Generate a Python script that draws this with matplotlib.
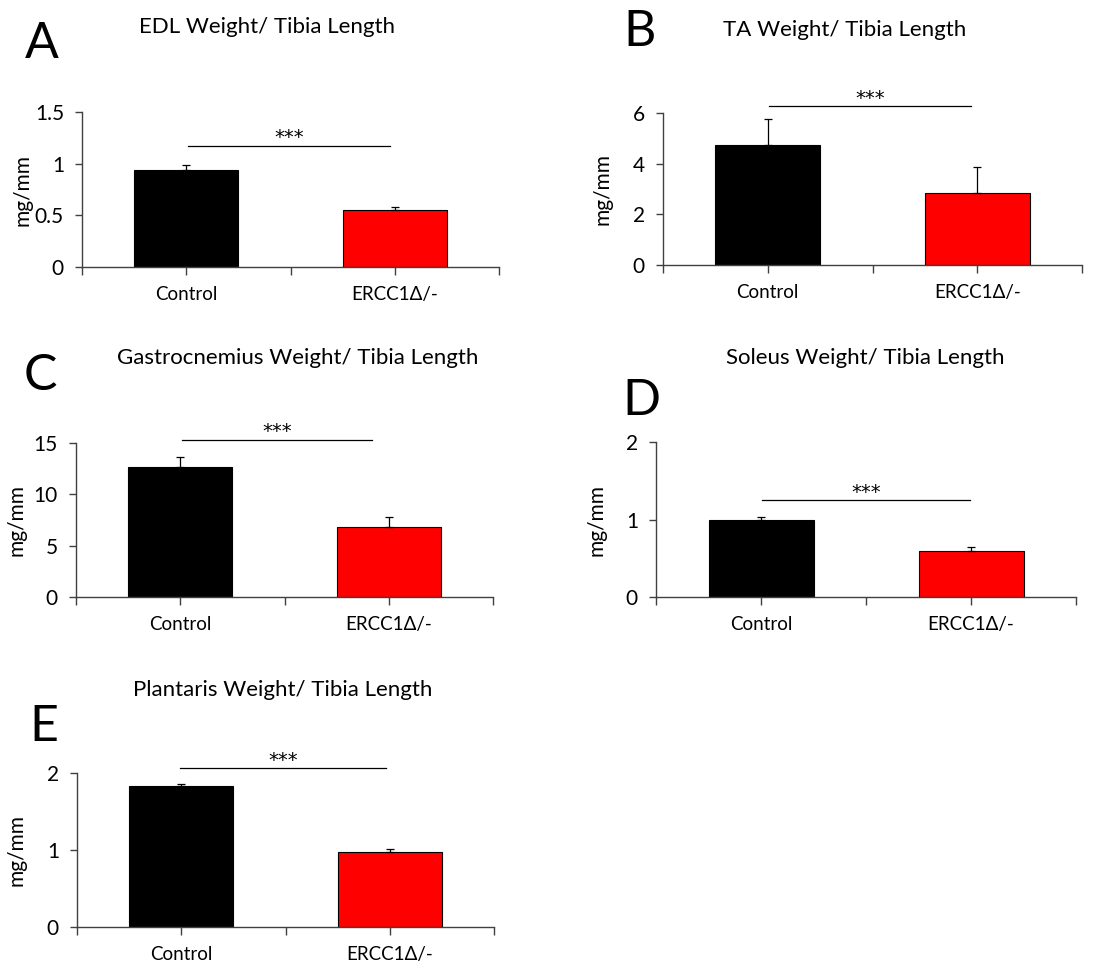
import matplotlib
matplotlib.use("Agg")
import matplotlib.pyplot as plt

plt.rcParams['font.family'] = ['Lato', 'DejaVu Sans']

W, H = 1117, 969
categories = ["Control", "ERCC1\u0394/-"]
colors = ["#000000", "#ff0000"]

titles = ["EDL Weight/ Tibia Length", "TA Weight/ Tibia Length",
          "Gastrocnemius Weight/ Tibia Length", "Soleus Weight/ Tibia Length",
          "Plantaris Weight/ Tibia Length"]
letters = ["A", "B", "C", "D", "E"]

edl_means = [0.94, 0.55]
edl_err = [0.045, 0.032]
ta_means = [4.75, 2.86]
ta_err = [1.0, 1.0]
gastro_means = [12.64, 6.82]
gastro_err = [1.0, 1.0]
soleus_means = [0.99, 0.60]
soleus_err = [0.04, 0.04]
plantaris_means = [1.83, 0.98]
plantaris_err = [0.025, 0.03]

means = [edl_means, ta_means, gastro_means, soleus_means, plantaris_means]
errs = [edl_err, ta_err, gastro_err, soleus_err, plantaris_err]
yticks = [[0, 0.5, 1, 1.5], [0, 2, 4, 6], [0, 5, 10, 15], [0, 1, 2], [0, 1, 2]]
ytick_labels = [["0", "0.5", "1", "1.5"], ["0", "2", "4", "6"], ["0", "5", "10", "15"],
                ["0", "1", "2"], ["0", "1", "2"]]
sig_y = [1.17, 6.26, 15.32, 1.25, 2.06]

# layout in pixels: left, right, top, bottom
boxes = [(82, 499, 112, 267), (663, 1082, 113, 265), (76, 493, 443, 597),
         (656, 1076, 442, 597), (77, 494, 773, 927)]
title_pos = [(267, 27), (845, 30), (298, 358), (865, 358), (283, 690)]
letter_pos = [(42, 44), (640, 32), (40, 376), (641, 401), (44, 727)]
sig_x = [(188, 390), (769, 971), (182, 372), (762, 970), (180, 386)]

fig = plt.figure(figsize=(W / 100, H / 100), dpi=100)

def fx(x):
    return x / W

def fy(y):
    return 1 - y / H

for i in range(5):
    l, r, t, b = boxes[i]
    ax = fig.add_axes([fx(l), fy(b), (r - l) / W, (b - t) / H])
    ax.bar([0, 1], means[i], width=0.5, color=colors, edgecolor="black", linewidth=0.8, zorder=2)
    ax.errorbar([0, 1], means[i], yerr=[[0, 0], errs[i]], fmt="none", ecolor="black",
                elinewidth=0.9, capsize=3, capthick=0.9, zorder=3)
    ax.set_xlim(-0.5, 1.5)
    ax.set_ylim(yticks[i][0], yticks[i][-1])
    ax.set_yticks(yticks[i])
    ax.set_yticklabels(ytick_labels[i], fontsize=15)
    ax.set_xticks([-0.5, 0, 0.5, 1, 1.5])
    ax.set_xticklabels(["", categories[0], "", categories[1], ""], fontsize=13.5)
    for s in ["top", "right"]:
        ax.spines[s].set_visible(False)
    for s in ["left", "bottom"]:
        ax.spines[s].set_color("#404040")
        ax.spines[s].set_linewidth(1.0)
    ax.tick_params(axis="x", direction="out", length=6, width=1, color="#404040", pad=8)
    ax.tick_params(axis="y", direction="out", length=5, width=1, color="#404040", pad=8)
    # significance line (axes x from pixel)
    x0 = (sig_x[i][0] - l) / (r - l) * 2 - 0.5
    x1 = (sig_x[i][1] - l) / (r - l) * 2 - 0.5
    ax.plot([x0, x1], [sig_y[i], sig_y[i]], color="black", lw=0.9, clip_on=False)
    ax.annotate("***", xy=((x0 + x1) / 2, sig_y[i]), xytext=(0, -1), textcoords="offset points",
                ha="center", va="bottom", fontsize=14, family=["DejaVu Sans"], annotation_clip=False)
    # y label
    fig.text(fx(l - 60), fy((t + b) / 2), "mg/mm", rotation=90, ha="center", va="center", fontsize=15)
    fig.text(fx(title_pos[i][0]), fy(title_pos[i][1]), titles[i], ha="center", va="center", fontsize=16)
    fig.text(fx(letter_pos[i][0]), fy(letter_pos[i][1]), letters[i], ha="center", va="center", fontsize=36)

fig.savefig("out.png", dpi=100, facecolor="white")
